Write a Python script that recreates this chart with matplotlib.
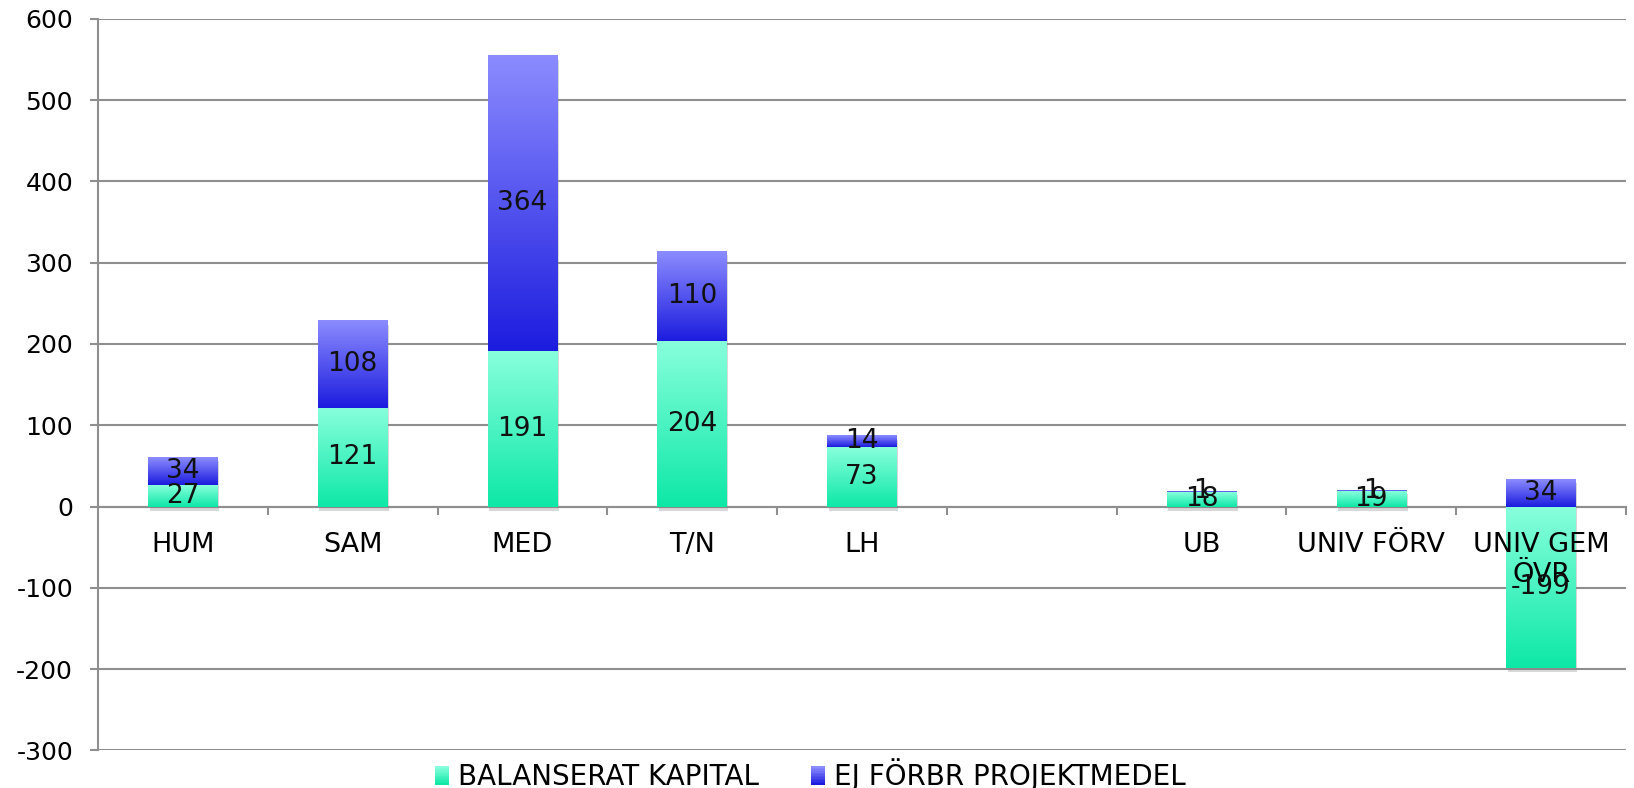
import numpy as np
import matplotlib

matplotlib.use('Agg')
import matplotlib.pyplot as plt
import matplotlib.patheffects as pe
from matplotlib.colors import LinearSegmentedColormap
from matplotlib.patches import Rectangle
from matplotlib.legend_handler import HandlerBase

plt.rcParams['axes.unicode_minus'] = False
plt.rcParams['font.family'] = ['DejaVu Sans']

categories = ['HUM', 'SAM', 'MED', 'T/N', 'LH', '', 'UB', 'UNIV FÖRV', 'UNIV GEM\nÖVR']
balanserat = [27, 121, 191, 204, 73, np.nan, 18, 19, -199]
projektmedel = [34, 108, 364, 110, 14, np.nan, 1, 1, 34]
series_names = ['BALANSERAT KAPITAL', 'EJ FÖRBR PROJEKTMEDEL']

# bottom -> top colours
green_cmap = LinearSegmentedColormap.from_list('green', ['#0de8a7', '#88ffdc'])
blue_cmap = LinearSegmentedColormap.from_list('blue', ['#1c1cdf', '#8c8cff'])
GRID = '#8f8f8f'
FS = 18


class GradientHandler(HandlerBase):
    def __init__(self, cmap):
        super().__init__()
        self.cmap = cmap

    def create_artists(self, legend, orig_handle, xdescent, ydescent, width, height, fontsize, trans):
        n = 12
        arts = []
        for i in range(n):
            arts.append(Rectangle((-xdescent, -ydescent + height * i / n), width, height / n + 0.3,
                                  facecolor=self.cmap(i / (n - 1)), edgecolor='none', transform=trans))
        return arts


fig = plt.figure(figsize=(16.34, 7.88), dpi=100)
ax = fig.add_axes([0.06, 0.0478, 0.9351, 0.9283])

x = np.arange(len(categories))
bal = np.array(balanserat, dtype=float)
proj = np.array(projektmedel, dtype=float)
blue_bottom = np.where(bal > 0, bal, 0)

bars_g = ax.bar(x, bal, width=0.41, color='none')
bars_b = ax.bar(x, proj, bottom=blue_bottom, width=0.41, color='none')

grad = np.linspace(0, 1, 256).reshape(-1, 1)


def fill_bars(bars, values, cmap):
    for patch, v in zip(bars, values):
        if np.isnan(v):
            continue
        x0, w = patch.get_x(), patch.get_width()
        y0, h = patch.get_y(), patch.get_height()
        lo, hi = min(y0, y0 + h), max(y0, y0 + h)
        ax.add_patch(Rectangle((x0, lo), w, hi - lo, facecolor='white', edgecolor='none', zorder=2,
                               path_effects=[pe.SimplePatchShadow(offset=(1, -3), shadow_rgbFace='#808080', alpha=0.3),
                                             pe.Normal()]))
        ax.imshow(grad, cmap=cmap, origin='lower', extent=(x0, x0 + w, lo, hi), aspect='auto', zorder=3)
        ax.text(x0 + w / 2, (lo + hi) / 2, f'{int(v)}', ha='center', va='center', fontsize=19,
                color='#111111', zorder=7)


fill_bars(bars_g, bal, green_cmap)
fill_bars(bars_b, proj, blue_cmap)

ax.set_xlim(-0.5, len(categories) - 0.5)
ax.set_ylim(-300, 600)
ax.set_yticks(np.arange(-300, 601, 100))
ax.yaxis.grid(True, color=GRID, linewidth=1.5)
ax.yaxis.set_zorder(0.5)
ax.xaxis.set_zorder(6)

for s in ['top', 'right']:
    ax.spines[s].set_visible(False)
ax.spines['left'].set_color(GRID)
ax.spines['left'].set_linewidth(1.5)
ax.spines['left'].set_zorder(1)
ax.spines['bottom'].set_position(('data', 0))
ax.spines['bottom'].set_color(GRID)
ax.spines['bottom'].set_linewidth(1.5)
ax.spines['bottom'].set_zorder(1)

ax.set_xticks(x)
ax.set_xticklabels(categories, fontsize=19.5, linespacing=1.2)
ax.set_xticks(x + 0.5, minor=True)
ax.tick_params(axis='x', which='major', length=0, pad=18)
ax.tick_params(axis='x', which='minor', length=6, width=1.5, color=GRID, direction='out')
ax.tick_params(axis='y', length=6, width=1.5, color=GRID, pad=12, labelsize=FS)

h_green = Rectangle((0, 0), 1, 1)
h_blue = Rectangle((0, 0), 1, 1)
fig.legend([h_green, h_blue], series_names,
           handler_map={h_green: GradientHandler(green_cmap), h_blue: GradientHandler(blue_cmap)},
           loc='center', bbox_to_anchor=(0.496, 13 / 788), ncol=2, frameon=False, fontsize=20,
           handlelength=0.5, handleheight=0.65, handletextpad=0.3, columnspacing=1.9,
           borderaxespad=0, borderpad=0)

fig.savefig('out.png', dpi=100)
plt.close(fig)
